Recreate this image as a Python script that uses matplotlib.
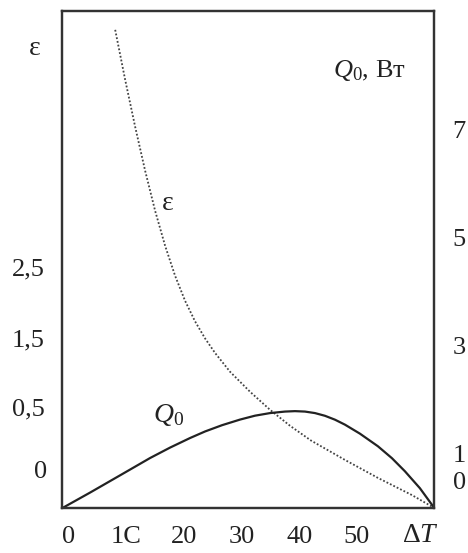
"""ε и Q0 в зависимости от ΔT — перерисовка схемы из учебника."""

import matplotlib
matplotlib.use("Agg")
import matplotlib.pyplot as plt
import numpy as np

plt.rcParams["font.family"] = ["Liberation Serif", "DejaVu Serif"]
plt.rcParams["mathtext.fontset"] = "custom"
plt.rcParams["mathtext.rm"] = "Liberation Serif"
plt.rcParams["mathtext.it"] = "Liberation Serif:italic"

# --- данные ---
dT_q = [-1.0, 3.81, 9.0, 14.19, 17.65, 21.11, 23.7, 26.64, 29.76, 32.35, 34.95, 37.54,
        39.27, 41.0, 42.73, 44.46, 46.19, 47.92, 50.52, 53.63, 56.06, 58.3, 60.9, 63.4]
Q0 = [0.0, 0.287, 0.606, 0.926, 1.119, 1.296, 1.417, 1.533, 1.637, 1.709, 1.757, 1.785,
      1.793, 1.785, 1.757, 1.707, 1.635, 1.543, 1.376, 1.143, 0.922, 0.681, 0.367, 0.0]

dT_eps = [8.13, 9.86, 11.59, 13.32, 15.05, 16.78, 18.51, 20.24, 21.97, 23.7, 25.43,
          28.03, 31.49, 34.95, 38.41, 42.04, 47.92, 53.63, 59.52, 63.4]
eps = [5.853, 5.146, 4.482, 3.860, 3.294, 2.800, 2.376, 2.022, 1.732, 1.491, 1.281,
       1.009, 0.720, 0.486, 0.407, 0.334, 0.238, 0.149, 0.064, 0.0]

x_ticks = [0, 10, 20, 30, 40, 50]
x_labels = ["0", "1C", "20", "30", "40", "50"]
eps_ticks = [0, 0.5, 1.5, 2.5]
eps_labels = ["0", "0,5", "1,5", "2,5"]
q_ticks = [0, 1, 3, 5, 7]
q_labels = ["0", "1", "3", "5", "7"]

# шкала ε на оригинале нелинейная: высота (в делениях Q0) для опорных значений
EPS_KNOTS = np.array([0.0, 0.5, 1.5, 2.5])
EPS_H = np.array([0.0, 1.87, 3.15, 4.46])
EPS_SLOPE_TOP = 1.31   # выше 2,5
EPS_SLOPE_LOW = 3.74   # ниже 0


def eps_fwd(e):
    e = np.asarray(e, dtype=float)
    return np.where(e > EPS_KNOTS[-1], EPS_H[-1] + (e - EPS_KNOTS[-1]) * EPS_SLOPE_TOP,
                    np.where(e < 0, e * EPS_SLOPE_LOW, np.interp(e, EPS_KNOTS, EPS_H)))


def eps_inv(h):
    h = np.asarray(h, dtype=float)
    return np.where(h > EPS_H[-1], EPS_KNOTS[-1] + (h - EPS_H[-1]) / EPS_SLOPE_TOP,
                    np.where(h < 0, h / EPS_SLOPE_LOW, np.interp(h, EPS_H, EPS_KNOTS)))


Q_TOP = 9.2
FS = 19
INK = "#222222"

fig = plt.figure(figsize=(4.68, 5.53), dpi=100)
ax = fig.add_axes([0.1335, 0.0814, 0.7945, 0.8986])
ax_q = ax.twinx()

ax.set_yscale("function", functions=(eps_fwd, eps_inv))
ax.set_ylim(0, float(eps_inv(Q_TOP)))
ax_q.set_ylim(0, Q_TOP)
ax.set_xlim(-1.0, 63.4)

ax.plot(dT_eps, eps, color="#444444", lw=1.3, ls=(0, (1, 1.1)))
ax_q.plot(dT_q, Q0, color=INK, lw=1.6, solid_capstyle="round", solid_joinstyle="round")

ax.set_xticks(x_ticks)
ax.set_xticklabels(x_labels)
ax.set_yticks(eps_ticks)
ax.set_yticklabels([""] + eps_labels[1:])
ax_q.set_yticks(q_ticks)
ax_q.set_yticklabels([""] + q_labels[1:])
ax.tick_params(axis="both", length=0, pad=13, labelsize=FS, colors=INK)
ax_q.tick_params(axis="y", length=0, pad=13, labelsize=FS, colors=INK)

# нули на обеих шкалах подписаны выше нижней рамки
ax.annotate(eps_labels[0], xy=(0, 0), xycoords=("axes fraction", "data"),
            xytext=(-16, 26), textcoords="offset points",
            ha="center", va="center", fontsize=FS, color=INK)
ax_q.annotate(q_labels[0], xy=(1, 0), xycoords=("axes fraction", "data"),
              xytext=(18, 18), textcoords="offset points",
              ha="center", va="center", fontsize=FS, color=INK)

for a in (ax, ax_q):
    for s in a.spines.values():
        s.set_linewidth(1.6)
        s.set_color("#333333")

ax.set_xlabel(r"$\Delta T$", fontsize=FS + 1, color=INK, ha="center", va="center")
ax.xaxis.set_label_coords(0.962, -0.056)
ax.set_ylabel("ε", fontsize=FS + 1, rotation=0, color=INK, ha="center", va="center")
ax.yaxis.set_label_coords(-0.074, 0.925)
ax_q.set_ylabel(r"$Q_0$, Вт", fontsize=FS, rotation=0, color=INK, ha="center", va="center")
ax_q.yaxis.set_label_coords(0.826, 0.881)

ax.text(17.3, 3.4, "ε", fontsize=FS + 1, ha="center", va="center", color=INK)
ax_q.text(17.3, 1.72, r"$Q_0$", fontsize=FS + 1, ha="center", va="center", color=INK)

fig.savefig("out.png", dpi=100)
